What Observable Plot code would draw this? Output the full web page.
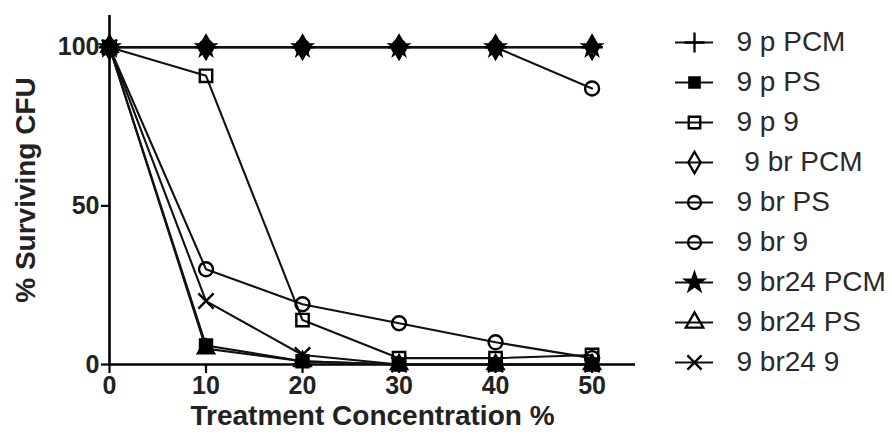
<!DOCTYPE html>
<html>
<head>
<meta charset="utf-8">
<script src="https://cdn.jsdelivr.net/npm/d3@7"></script>
<script src="https://cdn.jsdelivr.net/npm/@observablehq/plot@0.6"></script>
<style>
  html, body { margin: 0; padding: 0; background: #fff; }
  #wrap { position: relative; width: 892px; height: 445px; overflow: hidden; }
  #main { position: absolute; left: 0; top: 0; }
  #legend { position: absolute; left: 660px; top: 0; }
  #legend text { white-space: pre; }
</style>
</head>
<body>
<div id="wrap"><div id="main"></div><div id="legend"></div></div>
<script>
// ---- data ----
const concentrations = [0, 10, 20, 30, 40, 50];
const seriesNames = ["9 p PCM", "9 p PS", "9 p 9", " 9 br PCM", "9 br PS", "9 br 9", "9 br24 PCM", "9 br24 PS", "9 br24 9"];
const p_PCM    = [100, 100, 100, 100, 100, 100];
const p_PS     = [100, 6, 1, 0, 0, 0];
const p_9      = [100, 91, 14, 2, 2, 3];
const br_PCM   = [100, 100, 100, 100, 100, 100];
const br_PS    = [100, 100, 100, 100, 100, 87];
const br_9     = [100, 30, 19, 13, 7, 2];
const br24_PCM = [100, 100, 100, 100, 100, 100];
const br24_PS  = [100, 5, 1, 0, 0, 0];
const br24_9   = [100, 20, 3, 0, 0, 0];
const seriesValues = [p_PCM, p_PS, p_9, br_PCM, br_PS, br_9, br24_PCM, br24_PS, br24_9];
const xTicks = [0, 10, 20, 30, 40, 50];
const yTicks = [0, 50, 100];
const xLabel = "Treatment Concentration %";
const yLabel = "% Surviving CFU";

// ---- styles ----
const symbols = ["plus", "square", "square", "diamond", "circle", "circle", "star", "triangle", "times"];
const filledSet = new Set(["9 p PS", "9 br24 PCM"]);
const smallSet = new Set(["9 br24 PCM", "9 br24 PS"]);
const font = "'Liberation Sans', Arial, Helvetica, sans-serif";
const textColor = "#222";

const rows = [];
seriesNames.forEach((s, i) => {
  concentrations.forEach((c, j) => rows.push({series: s, conc: c, value: seriesValues[i][j]}));
});

const symbolScale = {domain: seriesNames, range: symbols};
const pick = (filled, small) => rows.filter(d => filledSet.has(d.series) === filled && smallSet.has(d.series) === small);
const dotOpts = (filled, r) => ({x: "conc", y: "value", symbol: "series", r, fill: filled ? "#000" : "none", stroke: "#000", strokeWidth: filled ? 2 : 2.4});

const main = Plot.plot({
  width: 892,
  height: 445,
  marginLeft: 109,
  marginRight: 257,
  marginTop: 15,
  marginBottom: 81,
  style: {fontFamily: font, fontSize: "25px", fontWeight: "bold", color: "#000", background: "#fff"},
  x: {domain: [0, 54.5]},
  y: {domain: [0, 110]},
  symbol: symbolScale,
  marks: [
    Plot.axisX({ticks: xTicks, tickSize: 9, tickPadding: 3, strokeWidth: 2.2, label: null, fill: textColor, tickFormat: d => String(d)}),
    Plot.axisY({ticks: yTicks, tickSize: 8, tickPadding: 2, strokeWidth: 2.2, label: null, fill: textColor, tickFormat: d => String(d)}),
    Plot.ruleX([0], {stroke: "#000", strokeWidth: 2.6}),
    Plot.ruleY([0], {stroke: "#000", strokeWidth: 2.6}),
    Plot.line(rows, {x: "conc", y: "value", z: "series", stroke: "#111", strokeWidth: 2.1}),
    Plot.dot(pick(false, false), dotOpts(false, 7)),
    Plot.dot(pick(false, true), dotOpts(false, 6)),
    Plot.dot(pick(true, false), dotOpts(true, 7)),
    Plot.dot(pick(true, true), dotOpts(true, 6)),
    Plot.text([xLabel], {text: d => d, frameAnchor: "bottom", dy: 60, fontSize: 28, fontWeight: "bold", fill: textColor}),
    Plot.text([yLabel], {text: d => d, frameAnchor: "left", textAnchor: "middle", rotate: -90, dx: -83, fontSize: 28, fontWeight: "bold", fill: textColor})
  ]
});
document.getElementById("main").appendChild(main);

const legend = Plot.plot({
  width: 232,
  height: 445,
  margin: 0,
  style: {fontFamily: font, fontSize: "28px", background: "transparent"},
  x: {domain: [0, 1], range: [15, 53], axis: null},
  y: {type: "point", padding: 0, domain: seriesNames, range: [42, 362], axis: null},
  symbol: symbolScale,
  marks: [
    Plot.ruleY(seriesNames, {y: d => d, x1: 0, x2: 1, stroke: "#111", strokeWidth: 2}),
    Plot.dot(seriesNames.filter(s => !filledSet.has(s)), {x: 0.5, y: d => d, symbol: d => d, r: 6.5, fill: "none", stroke: "#000", strokeWidth: 2.3}),
    Plot.dot(seriesNames.filter(s => filledSet.has(s)), {x: 0.5, y: d => d, symbol: d => d, r: 6, fill: "#000", stroke: "#000", strokeWidth: 2}),
    Plot.text(seriesNames, {x: 1, y: d => d, text: d => d, textAnchor: "start", dx: 23, fill: "#2a2a2a", fontSize: 28})
  ]
});
document.getElementById("legend").appendChild(legend);
</script>
</body>
</html>
